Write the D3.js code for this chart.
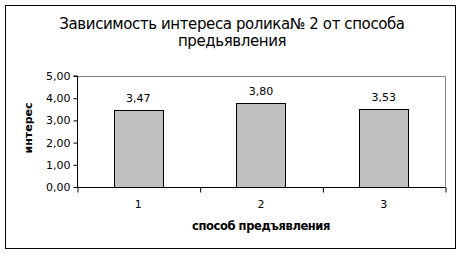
<!DOCTYPE html>
<html>
<head>
<meta charset="utf-8">
<script src="https://cdn.jsdelivr.net/npm/d3@7"></script>
<style>
  body { margin: 0; background: #fff; }
  text { font-family: "DejaVu Sans", sans-serif; fill: #000; }
</style>
</head>
<body>
<div id="chart"></div>
<script>
// data
const categories = ['1', '2', '3'];
const values = [3.47, 3.80, 3.53];
const yTicks = [0, 1, 2, 3, 4, 5];
const titleLines = ['Зависимость интереса ролика№ 2 от способа', 'предьявления'];
const xTitle = 'способ предъявления';
const yTitle = 'интерес';

const width = 460;
const height = 253;
const plot = { left: 77, right: 445, top: 76, bottom: 187 };
const fmt = v => d3.format('.2f')(v).replace('.', ',');

const svg = d3.select('#chart').append('svg')
  .attr('width', width)
  .attr('height', height);

// outer frame
svg.append('rect')
  .attr('x', 5.5).attr('y', 5.5)
  .attr('width', 450).attr('height', 243)
  .attr('fill', '#fff').attr('stroke', '#000');

// title
svg.append('text')
  .attr('x', 232).attr('y', 29)
  .attr('text-anchor', 'middle')
  .style('font-size', '15px')
  .style('letter-spacing', '-0.4px')
  .selectAll('tspan')
  .data(titleLines)
  .enter().append('tspan')
    .attr('x', 232)
    .attr('dy', (d, i) => i === 0 ? 0 : 17)
    .text(d => d);

const xScale = d3.scaleBand()
  .domain(categories)
  .range([plot.left, plot.right])
  .paddingInner(0.6)
  .paddingOuter(0.3);

const yScale = d3.scaleLinear()
  .domain([0, 5])
  .range([plot.bottom, plot.top]);

// plot area border (grey top & right)
svg.append('path')
  .attr('d', `M${plot.left},${plot.top + 0.5}H${plot.right + 0.5}V${plot.bottom}`)
  .attr('fill', 'none')
  .attr('stroke', '#808080');

// bars
svg.selectAll('.bar')
  .data(values)
  .enter().append('rect')
    .attr('class', 'bar')
    .attr('x', (d, i) => Math.round(xScale(categories[i])) + 0.5)
    .attr('y', d => Math.round(yScale(d)) + 0.5)
    .attr('width', Math.round(xScale.bandwidth()))
    .attr('height', d => plot.bottom - Math.round(yScale(d)))
    .attr('fill', '#c0c0c0')
    .attr('stroke', '#000');

// value labels
svg.selectAll('.val')
  .data(values)
  .enter().append('text')
    .attr('class', 'val')
    .attr('x', (d, i) => xScale(categories[i]) + xScale.bandwidth() / 2)
    .attr('y', d => yScale(d) - 8)
    .attr('text-anchor', 'middle')
    .style('font-size', '11px')
    .text(d => fmt(d));

// y axis
const yAxis = d3.axisLeft(yScale)
  .tickValues(yTicks)
  .tickSize(4)
  .tickPadding(3)
  .tickFormat(fmt);
const yg = svg.append('g')
  .attr('transform', `translate(${plot.left + 0.5},0)`)
  .call(yAxis);
yg.selectAll('text').style('font-size', '11px');
yg.select('.domain').attr('d', `M-4,${plot.top}H0V${plot.bottom}`);

// x axis: ticks between categories
const xLin = d3.scaleLinear().domain([0, 3]).range([plot.left, plot.right]);
const xAxis = d3.axisBottom(xLin)
  .tickValues([0, 1, 2, 3])
  .tickSize(5)
  .tickFormat('');
const xg = svg.append('g')
  .attr('transform', `translate(0.5,${plot.bottom + 0.5})`)
  .call(xAxis);
xg.select('.domain').attr('d', `M${plot.left},0H${plot.right}`);

svg.selectAll('.cat')
  .data(categories)
  .enter().append('text')
    .attr('class', 'cat')
    .attr('x', d => xScale(d) + xScale.bandwidth() / 2)
    .attr('y', 208)
    .attr('text-anchor', 'middle')
    .style('font-size', '11px')
    .text(d => d);

// axis titles
svg.append('text')
  .attr('x', 261).attr('y', 230)
  .attr('text-anchor', 'middle')
  .style('font-size', '11.5px')
  .style('font-weight', 'bold')
  .style('letter-spacing', '-0.4px')
  .text(xTitle);

svg.append('text')
  .attr('transform', 'translate(32,128) rotate(-90)')
  .attr('text-anchor', 'middle')
  .style('font-size', '11px')
  .style('font-weight', 'bold')
  .text(yTitle);
</script>
</body>
</html>
